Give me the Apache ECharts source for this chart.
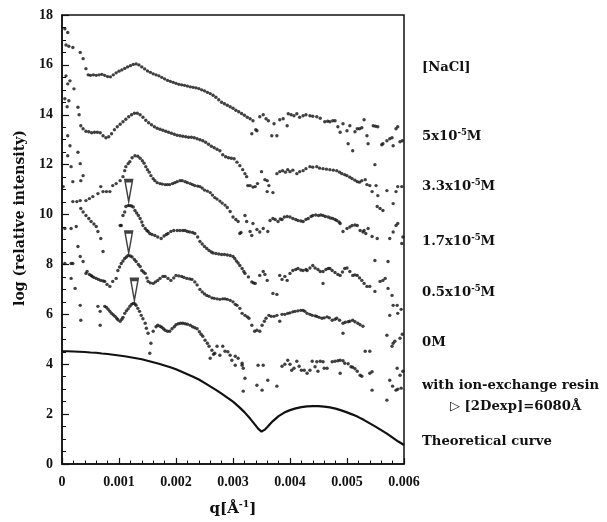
<!DOCTYPE html>
<html>
<head>
<meta charset="utf-8">
<script src="https://cdn.jsdelivr.net/npm/echarts@6/dist/echarts.min.js"></script>
<style>html,body{margin:0;padding:0;background:#fff}#chart{width:607px;height:522px}</style>
</head>
<body>
<div id="chart"></div>
<script>
// Scattering profiles, q in 1/Å, intensity as log(relative intensity); curves are vertically offset.
const xTickLabels = ['0', '0.001', '0.002', '0.003', '0.004', '0.005', '0.006'];
const yTickLabels = ['0', '2', '4', '6', '8', '10', '12', '14', '16', '18'];

const nacl5 = [
  [.00005,17.45],[.0001,17.3],[.00007,16.8],[.00012,16.75],[.00019,16.7],[.00032,16.5],[.00037,16.25],[.00042,15.85],[.00046,15.6],
  [.0005,15.58],[.00055,15.6],[.0006,15.58],[.00065,15.6],[.0007,15.62],[.00075,15.58],[.0008,15.53],[.00085,15.52],[.0009,15.6],[.00095,15.68],
  [.001,15.75],[.00105,15.8],[.0011,15.86],[.00115,15.92],[.0012,15.97],[.00125,16.02],[.0013,16.04],[.00135,16.0],[.0014,15.92],[.00145,15.84],
  [.0015,15.76],[.00155,15.7],[.0016,15.64],[.00165,15.6],[.0017,15.56],[.00175,15.5],[.0018,15.44],[.00185,15.38],[.0019,15.34],[.00195,15.3],
  [.002,15.26],[.00205,15.22],[.0021,15.2],[.00215,15.18],[.0022,15.15],[.00225,15.12],[.0023,15.1],[.00235,15.08],[.0024,15.05],[.00245,15.0],
  [.0025,14.96],[.00255,14.9],[.0026,14.85],[.00265,14.78],[.0027,14.7],[.00275,14.6],[.0028,14.5],[.00285,14.44],[.0029,14.38],[.00295,14.32],
  [.003,14.26],[.00305,14.18],[.0031,14.12],[.00315,14.05],[.0032,13.98],[.00325,13.9],[.0033,13.84],[.00335,13.76],
  [.00333,13.24],[.0034,13.4],[.00342,13.36],[.00347,13.92],[.00353,14.0],[.00358,13.84],[.00362,13.76],[.00368,13.16],[.00372,13.64],[.00377,13.16],
  [.00382,13.8],[.00388,13.84],[.00395,13.56],[.00397,14.04],[.00402,14.0],[.00407,13.96],[.00412,14.04],[.00417,13.9],[.00423,13.96],[.00428,14.0],
  [.00435,13.96],[.0044,13.94],[.00447,13.92],[.00453,13.86],[.00461,13.72],[.00466,13.74],[.0047,13.72],[.00475,13.76],[.00479,13.76],[.00484,13.52],
  [.00488,13.3],[.00493,13.64],[.005,13.36],[.00502,12.84],[.00505,13.56],[.0051,12.56],[.00514,13.32],[.00518,13.44],[.00522,13.44],[.00526,13.48],
  [.0053,13.8],[.00535,13.16],[.00537,12.84],[.00546,13.56],[.0055,13.54],[.00554,13.52],[.00561,12.8],[.00563,12.84],[.0057,12.96],[.00575,13.04],
  [.00579,13.08],[.00581,12.76],[.00586,13.44],[.00589,13.52],[.00593,12.92],[.00597,12.96]
];

const nacl33 = [
  [.00007,15.56],[.00014,15.36],[.0001,15.24],[.00021,15.04],[.00005,14.64],[.00012,14.56],[.00009,14.32],[.00028,14.3],[.0003,14.0],[.00033,13.56],[.00037,13.44],
  [.00042,13.34],[.00047,13.32],[.00052,13.28],[.00057,13.3],[.00062,13.3],[.00067,13.28],[.00072,13.16],[.00077,13.08],[.00082,13.12],[.00087,13.24],
  [.00092,13.4],[.00097,13.52],[.00102,13.62],[.00107,13.72],[.00112,13.82],[.00117,13.92],[.00122,14.0],[.00127,14.06],[.00132,14.06],[.00137,14.0],
  [.00142,13.9],[.00147,13.78],[.00152,13.68],[.00157,13.6],[.00162,13.52],[.00167,13.46],[.00172,13.42],[.00177,13.38],[.00182,13.34],[.00187,13.3],
  [.00192,13.26],[.00197,13.22],[.00202,13.18],[.00207,13.16],[.00212,13.14],[.00217,13.12],[.00222,13.1],[.00227,13.1],[.00232,13.08],[.00237,13.04],
  [.00242,13.0],[.00247,12.96],[.00252,12.9],[.00257,12.82],[.00262,12.74],[.00267,12.68],[.00272,12.62],[.00277,12.56],[.00282,12.4],[.00287,12.32],
  [.00292,12.28],[.00297,12.26],[.00302,12.24],[.00307,12.1],[.00312,11.96],[.00317,11.8],[.00321,11.64],
  [.00324,11.52],[.00326,11.16],[.0033,11.16],[.00335,11.1],[.00339,11.12],[.00343,11.24],[.0035,11.72],[.00356,11.4],[.0036,11.36],[.00363,11.16],
  [.0036,10.92],[.0037,10.88],[.00377,11.64],[.00382,11.72],[.00387,11.76],[.00392,11.7],[.00396,11.8],[.004,11.72],[.00405,11.78],[.00412,11.64],
  [.00417,11.72],[.00423,11.76],[.00428,11.84],[.00435,11.92],[.0044,11.9],[.00447,11.92],[.00452,11.86],[.00458,11.84],[.00464,11.82],[.0047,11.8],
  [.00476,11.78],[.00482,11.76],[.00487,11.7],[.00491,11.64],[.00496,11.6],[.005,11.56],[.00505,11.5],[.00509,11.44],[.00514,11.38],[.00518,11.32],
  [.00522,11.3],[.00526,11.36],[.00532,11.4],[.00535,11.2],[.0054,11.16],[.00544,10.92],[.00549,12.0],[.00551,11.16],[.00554,10.76],[.00553,10.32],
  [.00558,10.24],[.00563,10.16],[.0057,10.96],[.00581,10.44],[.00586,10.92],[.00589,11.12],[.00596,11.12]
];

const nacl17 = [
  [.0001,13.16],[.00014,12.76],[.0001,12.36],[.00028,12.5],[.00032,12.04],[.00016,11.92],[.00037,11.56],[.00019,11.32],[.00033,11.36],[.00002,11.12],
  [.00019,10.52],[.00026,10.52],[.00032,10.56],[.00042,10.56],[.00048,10.64],[.00054,10.72],[.00063,10.84],[.00068,11.12],[.00072,10.92],[.00078,10.92],
  [.00084,10.92],[.00089,11.16],[.00095,11.24],[.00102,11.36],[.00107,11.52],[.0011,11.76],[.00112,11.92],[.00116,12.04],[.00119,12.12],[.00123,12.28],
  [.00128,12.36],[.00133,12.34],[.00137,12.26],[.00141,12.16],[.00144,12.06],[.00147,11.92],[.0015,11.8],[.00153,11.7],[.00156,11.56],[.0016,11.44],
  [.00163,11.36],[.00167,11.28],[.00172,11.24],[.00176,11.22],[.00181,11.2],[.00185,11.2],[.00189,11.2],[.00194,11.24],[.00198,11.28],[.00202,11.32],
  [.00207,11.36],[.00211,11.36],[.00216,11.32],[.0022,11.28],[.00225,11.24],[.00229,11.2],[.00233,11.16],[.00238,11.14],[.00242,11.12],[.00246,11.06],
  [.0025,10.98],[.00255,10.94],[.0026,10.88],[.00264,10.78],[.00268,10.68],[.00272,10.62],[.00277,10.54],[.00281,10.46],[.00286,10.38],[.0029,10.28],
  [.00295,10.12],[.003,9.9],[.00305,9.8],[.00309,9.72],[.00312,9.24],[.00314,9.28],[.00321,9.96],[.00324,9.72],[.0033,9.32],[.00333,9.16],[.00335,9.64],
  [.00342,9.4],[.00347,9.3],[.00353,9.44],[.00361,9.32],[.00365,9.76],[.0037,9.84],[.00374,9.8],[.00379,9.72],[.00383,9.82],[.00386,9.8],[.0039,9.9],
  [.00395,9.92],[.004,9.9],[.00405,9.84],[.0041,9.8],[.00414,9.76],[.00419,9.74],[.00423,9.72],[.00428,9.8],[.00432,9.84],[.00437,9.92],[.0044,9.96],
  [.00445,9.98],[.0045,9.96],[.00454,9.98],[.00458,9.96],[.00462,9.92],[.00467,9.9],[.00471,9.86],[.00475,9.84],[.00479,9.8],[.00482,9.76],[.00486,9.7],
  [.00488,9.64],[.00493,9.32],[.005,9.44],[.00505,9.5],[.00509,9.56],[.00514,9.58],[.00518,9.56],[.00523,9.36],[.00528,9.3],[.0053,9.36],[.00533,9.24],
  [.00537,9.44],[.00544,9.12],[.00549,8.16],[.00553,9.04],[.00572,8.12],[.00575,9.04],[.00581,9.3],[.00586,9.56],[.00589,9.64],[.00596,8.84],[.00598,9.1]
];

const nacl05 = [
  [.00005,9.44],[.00016,9.44],[.00025,9.52],
  [.00033,10.24],[.00037,10.1],[.00042,9.96],[.00047,9.84],[.00051,9.72],[.00056,9.62],[.0006,9.52],[.00063,9.32],[.00068,9.04],[.00072,8.52],
  [.00102,9.56],[.00104,9.56],[.00107,9.96],[.0011,10.1],[.00112,10.32],[.00116,10.36],[.00119,10.36],[.00122,10.34],[.00125,10.3],[.00128,10.16],
  [.00131,10.06],[.00134,9.96],[.00137,9.84],[.0014,9.7],[.00142,9.56],[.00146,9.44],[.00149,9.36],[.00151,9.32],[.00154,9.24],[.00158,9.2],[.00163,9.16],
  [.00168,9.1],[.00174,9.04],[.00179,9.14],[.00183,9.2],[.00186,9.24],[.00191,9.32],[.00196,9.36],[.00202,9.36],[.00207,9.36],[.00212,9.36],[.00216,9.36],
  [.0022,9.32],[.00224,9.3],[.00229,9.28],[.00233,9.24],[.00238,9.1],[.00242,8.92],[.00246,8.82],[.0025,8.72],[.00254,8.64],[.00258,8.56],[.00262,8.5],
  [.00265,8.46],[.0027,8.44],[.00275,8.42],[.0028,8.4],[.00285,8.4],[.0029,8.38],[.00295,8.36],[.003,8.32],[.00303,8.24],[.00306,8.14],[.00309,8.06],
  [.00312,7.96],[.00316,7.84],[.00319,7.72],[.00321,7.64],[.00327,7.5],[.00333,7.3],[.00336,7.26],[.00339,7.24],[.00347,7.56],[.00353,7.72],[.00356,7.6],
  [.0036,7.36],[.0037,6.84],[.00377,6.8],[.00382,7.56],[.00386,7.4],[.00391,7.52],[.00395,7.36],[.004,7.64],[.00405,7.76],[.0041,7.8],[.00414,7.84],
  [.00419,7.78],[.00423,7.76],[.00428,7.8],[.0043,7.76],[.00435,7.86],[.0044,7.96],[.00444,7.86],[.00449,7.8],[.00453,7.72],[.00458,7.72],[.00458,7.24],
  [.00463,7.8],[.00467,7.84],[.0047,7.84],[.00474,7.76],[.00479,7.68],[.00484,7.6],[.00488,7.56],[.00492,7.7],[.00496,7.84],[.005,7.86],[.00505,7.72],
  [.0051,7.56],[.00514,7.58],[.00518,7.56],[.00522,7.46],[.00526,7.36],[.0053,7.24],[.00535,7.12],[.0054,7.12],[.00549,6.92],[.00558,7.32],[.00563,7.36],
  [.00567,7.44],[.00572,7.04],[.00579,6.76],[.00581,6.36],[.00575,5.96],[.00588,6.36],[.00589,6.04],[.00595,6.2]
];

const nacl0 = [
  [.00005,8.04],[.00016,8.04],[.00019,8.04],[.00028,8.72],[.00032,8.32],[.00037,8.12],[.00044,7.72],[.00042,7.64],[.00048,7.6],[.00051,7.56],[.00053,7.52],
  [.00056,7.48],[.0006,7.44],[.00064,7.4],[.00068,7.36],[.00072,7.34],[.00075,7.32],[.00079,7.2],[.00084,7.12],[.00089,7.32],[.00095,7.44],[.00098,7.76],
  [.00101,7.9],[.00104,8.04],[.00107,8.14],[.0011,8.24],[.00113,8.3],[.00116,8.36],[.0012,8.34],[.00123,8.3],[.00127,8.2],[.0013,8.12],[.00134,8.0],
  [.00137,7.92],[.0014,7.76],[.00143,7.7],[.00146,7.64],[.00149,7.46],[.00151,7.32],[.00155,7.26],[.0016,7.24],[.00164,7.3],[.00168,7.36],[.00172,7.44],
  [.00177,7.52],[.00181,7.52],[.00186,7.44],[.00191,7.36],[.00196,7.46],[.002,7.56],[.00205,7.54],[.0021,7.52],[.00214,7.48],[.00219,7.44],[.00224,7.42],
  [.00228,7.4],[.00233,7.3],[.00237,7.18],[.00242,7.0],[.00246,6.9],[.0025,6.82],[.00254,6.76],[.00258,6.72],[.00263,6.66],[.00267,6.64],[.00272,6.62],
  [.00277,6.6],[.00282,6.62],[.00286,6.62],[.0029,6.6],[.00295,6.56],[.003,6.5],[.00304,6.4],[.00307,6.36],[.00312,6.24],[.00316,6.04],[.00321,5.96],
  [.00325,5.9],[.00328,5.84],[.00333,5.56],[.00338,5.32],[.00342,5.36],[.00347,5.32],[.00351,5.56],[.00355,5.72],[.00358,5.84],[.00363,5.96],[.00367,5.92],
  [.00372,5.92],[.00377,5.96],[.00382,5.72],[.00386,6.0],[.00391,6.0],[.00396,6.04],[.004,6.06],[.00405,6.1],[.00409,6.12],[.00414,6.14],[.00419,6.16],
  [.00423,6.16],[.00426,6.12],[.0043,6.04],[.00435,6.0],[.00439,5.96],[.00444,5.94],[.00447,5.92],[.00451,5.88],[.00456,5.84],[.0046,5.86],[.00465,5.9],
  [.00469,5.86],[.00474,5.76],[.00479,5.8],[.00482,5.84],[.00487,5.76],[.00493,5.64],[.00493,5.24],[.00497,5.68],[.00502,5.7],[.00505,5.72],[.0051,5.76],
  [.00514,5.7],[.00519,5.64],[.00523,5.58],[.00528,5.52],[.00532,4.52],[.0054,4.52],[.0057,5.16],[.00579,4.72],[.00581,4.84],[.00584,4.92],[.00593,5.04],
  [.00597,5.2]
];

const resin = [
  [.00016,7.44],[.00023,7.04],[.00032,6.36],[.00033,5.76],[.00063,6.32],[.00067,5.56],[.00067,6.12],
  [.00075,6.32],[.00078,6.28],[.00081,6.2],[.00084,6.12],[.00087,6.04],[.0009,5.98],[.00093,5.92],[.00096,5.84],[.00098,5.78],[.00102,5.72],[.00105,5.8],
  [.00107,5.88],[.0011,6.04],[.00113,6.14],[.00116,6.22],[.00119,6.32],[.00122,6.4],[.00125,6.44],[.00128,6.42],[.0013,6.36],[.00133,6.24],[.00136,6.12],
  [.00139,5.96],[.00142,5.82],[.00146,5.64],[.00148,5.44],[.00151,5.24],[.0016,5.32],[.00156,4.84],[.00154,4.44],[.00165,5.5],[.00168,5.56],[.00172,5.52],
  [.00175,5.48],[.00178,5.42],[.00181,5.36],[.00185,5.32],[.00189,5.32],[.00193,5.42],[.00197,5.5],[.002,5.58],[.00204,5.62],[.00208,5.64],[.00212,5.64],
  [.00216,5.62],[.0022,5.6],[.00225,5.56],[.00229,5.5],[.00233,5.46],[.00237,5.42],[.00241,5.3],[.00244,5.2],[.00247,5.12],[.00251,4.96],[.00255,4.84],
  [.00258,4.72],[.0026,4.24],[.00263,4.56],[.00266,4.4],[.00268,4.44],[.00272,4.72],[.00277,4.36],[.00282,4.72],[.00286,4.52],[.00291,4.5],[.00295,4.36],
  [.00298,4.16],[.00304,4.32],[.00304,3.96],[.00309,4.24],[.00316,3.96],[.00316,4.04],[.00318,3.84],[.00321,3.44],[.00318,2.92],[.00344,3.96],[.00353,3.96],
  [.00342,3.16],[.00351,2.96],[.00361,3.36],[.00377,3.12],[.00386,3.92],[.00391,4.0],[.00396,4.16],[.004,4.0],[.00403,3.76],[.00407,3.84],[.00412,4.12],
  [.00416,3.92],[.0042,3.76],[.00425,3.76],[.0043,3.64],[.00435,3.76],[.00439,4.12],[.00444,3.9],[.00447,4.1],[.00449,3.72],[.00453,4.12],[.00458,4.1],
  [.0046,3.84],[.00465,3.84],[.00474,4.1],[.00479,4.12],[.00484,4.14],[.00488,4.16],[.00488,3.64],[.00493,4.14],[.00496,4.04],[.00502,4.02],[.00507,3.9],
  [.0051,3.88],[.00514,3.82],[.00518,3.72],[.00523,3.56],[.00526,3.52],[.0054,3.64],[.00544,3.7],[.00544,2.96],[.0057,2.56],[.00575,3.36],[.0058,3.12],
  [.00586,2.96],[.00589,3.0],[.00588,3.84],[.00593,3.56],[.00595,3.04],[.00598,3.72]
];

const theory = [
  [0,4.52],[.0001,4.52],[.0002,4.51],[.0003,4.5],[.0004,4.49],[.0005,4.47],[.0006,4.46],[.0007,4.43],[.0008,4.41],[.0009,4.38],
  [.001,4.35],[.0011,4.32],[.0012,4.28],[.0013,4.24],[.0014,4.2],[.0015,4.14],[.0016,4.08],[.0017,4.02],[.0018,3.95],[.0019,3.88],
  [.002,3.8],[.0021,3.7],[.0022,3.6],[.0023,3.5],[.0024,3.39],[.0025,3.25],[.0026,3.11],[.0027,2.97],[.0028,2.82],[.0029,2.66],
  [.003,2.5],[.0031,2.3],[.0032,2.08],[.0033,1.82],[.00335,1.68],[.0034,1.54],[.00344,1.42],[.00347,1.34],[.0035,1.3],[.00353,1.32],
  [.00356,1.38],[.0036,1.47],[.00365,1.6],[.0037,1.72],[.0038,1.92],[.0039,2.06],[.004,2.16],[.0041,2.23],[.0042,2.28],[.0043,2.31],
  [.0044,2.32],[.0045,2.32],[.0046,2.3],[.0047,2.27],[.0048,2.22],[.0049,2.15],[.005,2.07],[.0051,1.98],[.0052,1.88],[.0053,1.76],
  [.0054,1.63],[.0055,1.5],[.0056,1.36],[.0057,1.22],[.0058,1.06],[.0059,0.9],[.006,0.76]
];

// Open triangles marking the [2Dexp] = 6080 Å peak position
const peakMarks = [[.00117,10.94],[.00117,8.88],[.00127,6.98]];

const curveLabels = [
  { text: '[NaCl]', y: 68 },
  { text: '{n|5x10}{s|-5}{n|M}', y: 137 },
  { text: '{n|3.3x10}{s|-5}{n|M}', y: 187 },
  { text: '{n|1.7x10}{s|-5}{n|M}', y: 242 },
  { text: '{n|0.5x10}{s|-5}{n|M}', y: 293 },
  { text: '0M', y: 343 },
  { text: 'with ion-exchange resin', y: 386 },
  { text: '{t|▷}{n| [2Dexp]=6080Å}', y: 407, x: 450 },
  { text: 'Theoretical curve', y: 442 }
];

const serif = "'DejaVu Serif', serif";
const tickFont = "'Liberation Serif', serif";
const ink = '#111';

const dotSeries = [nacl5, nacl33, nacl17, nacl05, nacl0, resin].map(d => ({
  type: 'scatter',
  data: d,
  symbol: 'circle',
  symbolSize: 3.4,
  itemStyle: { color: ink },
  silent: true
}));

const richText = {
  n: { fontFamily: serif, fontWeight: 'bold', fontSize: 13.2, fill: ink, lineHeight: 18 },
  s: { fontFamily: serif, fontWeight: 'bold', fontSize: 8.5, fill: ink, verticalAlign: 'top', lineHeight: 10 },
  t: { fontFamily: "'DejaVu Sans', sans-serif", fontWeight: 'bold', fontSize: 13, fill: ink, lineHeight: 18 }
};

const chart = echarts.init(document.getElementById('chart'), null, { renderer: 'canvas' });
chart.setOption({
  animation: false,
  backgroundColor: '#fff',
  grid: { left: 62, right: 203, top: 15, bottom: 56, show: true, borderColor: ink, borderWidth: 1.5, backgroundColor: 'transparent' },
  xAxis: {
    type: 'value', min: 0, max: 0.006, interval: 0.001,
    axisLine: { lineStyle: { color: ink, width: 1.5 } },
    axisTick: { inside: true, length: 6, lineStyle: { color: ink, width: 1.2 } },
    minorTick: { show: true, splitNumber: 5, length: 3.5, lineStyle: { color: ink, width: 1 } },
    splitLine: { show: false },
    axisLabel: {
      color: ink, fontFamily: tickFont, fontWeight: 'bold', fontSize: 14, margin: 11,
      formatter: v => xTickLabels[Math.round(v / 0.001)]
    },
    name: '{a|q[Å}{b|-1}{a|]}',
    nameLocation: 'middle', nameGap: 36,
    nameTextStyle: {
      rich: {
        a: { fontFamily: serif, fontWeight: 'bold', fontSize: 15, color: ink, lineHeight: 19 },
        b: { fontFamily: serif, fontWeight: 'bold', fontSize: 9.5, color: ink, verticalAlign: 'top', lineHeight: 10 }
      }
    }
  },
  yAxis: {
    type: 'value', min: 0, max: 18, interval: 2,
    axisLine: { lineStyle: { color: ink, width: 1.5 } },
    axisTick: { inside: true, length: 7, lineStyle: { color: ink, width: 1.2 } },
    minorTick: { show: true, splitNumber: 4, length: 4, lineStyle: { color: ink, width: 1 } },
    splitLine: { show: false },
    axisLabel: {
      color: ink, fontFamily: tickFont, fontWeight: 'bold', fontSize: 14, margin: 9,
      formatter: v => yTickLabels[Math.round(v / 2)]
    }
  },
  series: [
    ...dotSeries,
    {
      type: 'line', data: theory, smooth: false, showSymbol: false, silent: true,
      lineStyle: { color: ink, width: 2.2 }
    },
    {
      type: 'scatter', data: peakMarks, z: 5, silent: true,
      symbol: 'path://M0,0L10,0L5,30Z', symbolKeepAspect: false, symbolSize: [7.5, 21],
      itemStyle: { color: '#fff', borderColor: ink, borderWidth: 2.2 }
    }
  ],
  graphic: [
    {
      type: 'text', x: 20, y: 218, rotation: Math.PI / 2, silent: true,
      style: {
        text: 'log (relative intensity)', fill: ink,
        font: "bold 14px 'DejaVu Serif', serif",
        align: 'center', verticalAlign: 'middle'
      }
    },
    ...curveLabels.map(l => ({
      type: 'text',
      x: l.x !== undefined ? l.x : 422,
      y: l.y,
      silent: true,
      style: {
        text: l.text.indexOf('{') === 0 ? l.text : '{n|' + l.text + '}',
        rich: richText,
        fill: ink,
        verticalAlign: 'middle',
        align: 'left'
      }
    }))
  ]
});
</script>
</body>
</html>
